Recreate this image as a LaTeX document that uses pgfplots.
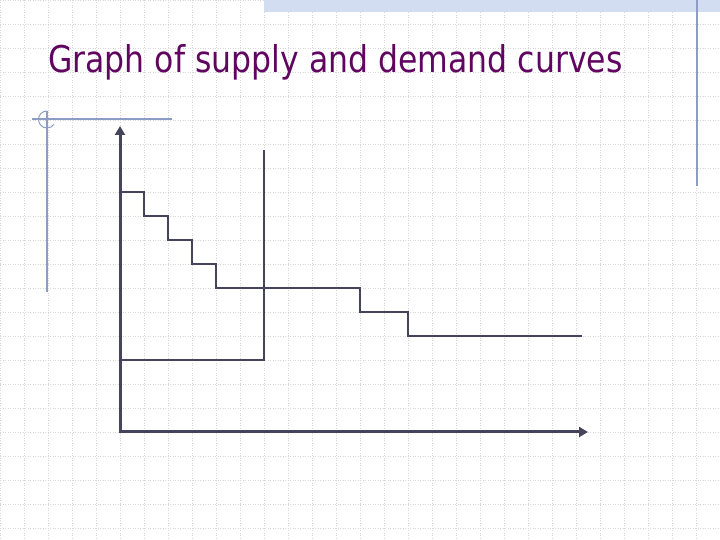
\documentclass[border=0pt]{standalone}
\usepackage{fontspec}
\usepackage{pgfplots}
\pgfplotsset{compat=1.18}
\usetikzlibrary{arrows.meta}
\newfontfamily\titlefont{DejaVu Sans}
\definecolor{titlepurple}{RGB}{96,6,96}
\definecolor{inkline}{RGB}{68,68,92}
\definecolor{decoblue}{RGB}{140,156,196}
\definecolor{bandblue}{RGB}{210,221,242}
\definecolor{gridgrey}{RGB}{214,214,214}

% demand: price steps (const plot), supply: fixed quantity
\pgfplotstableread{
q p
0 10
1 9
2 8
3 7
4 6
10 5
12 4
19.25 4
}\demand
\pgfplotstableread{
q p
0 3
6 3
6 11.75
}\supply

\begin{document}
\begin{tikzpicture}
% slide background: dotted grid, title and decorations (pixel units)
\begin{axis}[
  name=bg,
  scale only axis,
  width=720pt, height=540pt,
  xmin=0, xmax=720, ymin=0, ymax=540,
  y dir=reverse,
  axis line style={draw=none},
  xtick={0,24,...,720}, ytick={0,24,...,528},
  xticklabels={}, yticklabels={},
  major tick length=0pt,
  grid=major,
  major grid style={dash pattern=on 1pt off 1.5pt, color=gridgrey, line width=0.8pt},
  clip=false,
]
  \fill[bandblue] (axis cs:264,0) rectangle (axis cs:720,12);
  \draw[decoblue, line width=1.2pt] (axis cs:697,0) -- (axis cs:697,186);
  \draw[decoblue, line width=1.2pt] (axis cs:32,119) -- (axis cs:172,119);
  \draw[decoblue, line width=1.2pt] (axis cs:47,111) -- (axis cs:47,292);
  \draw[decoblue, line width=1pt] (axis cs:47,111) arc[start angle=90, end angle=325, radius=8.5pt];
  \node[anchor=base west, inner sep=0pt, text=titlepurple] at (axis cs:48,72.5)
    {\resizebox{574pt}{28pt}{\titlefont Graph of supply and demand curves}};
\end{axis}

% the chart itself, one unit = one grid square
\begin{axis}[
  at={(bg.north west)}, anchor=south west,
  xshift=120pt, yshift=-432pt,
  scale only axis,
  width=468pt, height=306pt,
  xmin=0, xmax=19.5, ymin=0, ymax=12.75,
  axis lines=none,
  clip=false,
]
  \draw[inkline, line width=3pt, -{Triangle[width=10pt,length=9pt]}]
    (axis cs:0,0) -- (axis cs:19.5,0);
  \draw[inkline, line width=3pt, -{Triangle[width=10pt,length=9pt]}]
    (axis cs:0,-0.06) -- (axis cs:0,12.75);
  \addplot[inkline, line width=1.5pt, const plot, no marks] table[x=q, y=p] {\demand};
  \addplot[inkline, line width=1.5pt, no marks] table[x=q, y=p] {\supply};
\end{axis}

\pgfresetboundingbox
\path (bg.south west) rectangle (bg.north east);
\end{tikzpicture}
\end{document}
